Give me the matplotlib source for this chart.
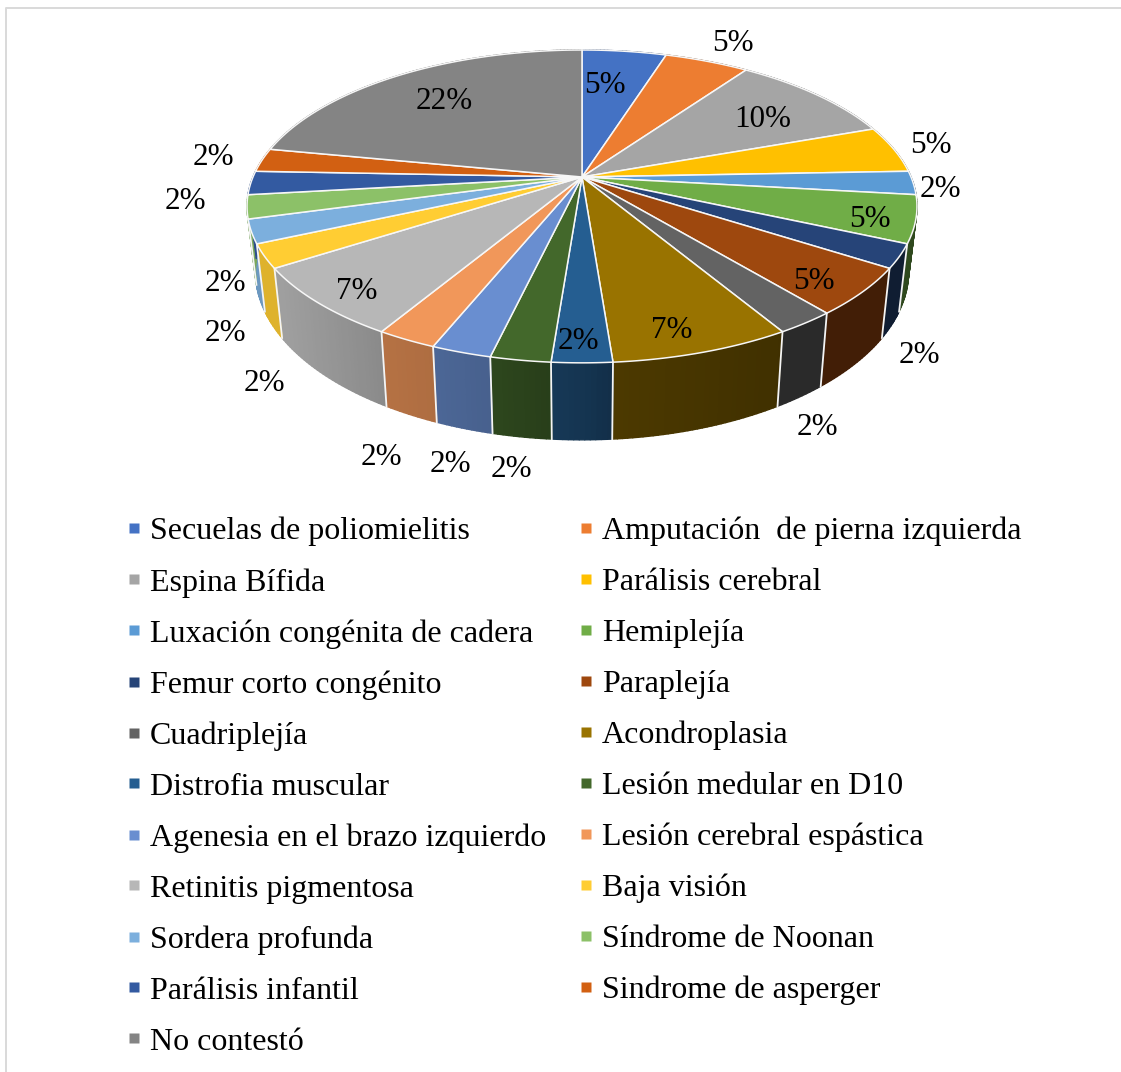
import numpy as np
import matplotlib
matplotlib.use('Agg')
import matplotlib.pyplot as plt
from matplotlib.collections import PolyCollection
from matplotlib.lines import Line2D
from matplotlib.colors import to_rgb

plt.rcParams['font.family'] = ['Liberation Serif', 'DejaVu Serif']

#### Data
categories = ['Secuelas de poliomielitis', 'Amputación  de pierna izquierda', 'Espina Bífida',
              'Parálisis cerebral', 'Luxación congénita de cadera', 'Hemiplejía',
              'Femur corto congénito', 'Paraplejía', 'Cuadriplejía', 'Acondroplasia',
              'Distrofia muscular', 'Lesión medular en D10', 'Agenesia en el brazo izquierdo',
              'Lesión cerebral espástica', 'Retinitis pigmentosa', 'Baja visión',
              'Sordera profunda', 'Síndrome de Noonan', 'Parálisis infantil',
              'Sindrome de asperger', 'No contestó']
counts = [2, 2, 4, 2, 1, 2, 1, 2, 1, 3, 1, 1, 1, 1, 3, 1, 1, 1, 1, 1, 9]
colors = ['#4472C4', '#ED7D31', '#A5A5A5', '#FFC000', '#5B9BD5', '#70AD47', '#264478',
          '#9E480E', '#636363', '#997300', '#255E91', '#43682B', '#698ED0', '#F1975A',
          '#B7B7B7', '#FFCD33', '#7CAFDD', '#8CC168', '#335AA1', '#D26012', '#848484']
# label centres in pixels, same order as the slices
label_x = [605, 733, 763, 931, 940, 870, 919, 814, 817, 672, 578, 511, 450, 381, 357, 264, 225, 225, 185, 213, 444]
label_y = [85.4, 43.4, 119.4, 145.4, 189.4, 219.4, 355.4, 281.4, 427.4, 330.4, 341.4, 469.4, 464.4, 457.4, 291.4,
           383.4, 333.4, 283.4, 201.4, 157.4, 101.4]

#### Pie geometry (pixels)
cx, cy = 582, 177
a, b, k = 150.9, 329.0, 0.188
depth = 62.5
shrink = 0.025
# rim darkening vs screen x
shade_x = [250, 280, 385, 435, 490, 550, 582, 612, 780, 920]
shade_f = [0.87, 0.87, 0.75, 0.72, 0.68, 0.60, 0.56, 0.50, 0.42, 0.42]


def project(theta, down=0.0):
    x = np.sin(theta)
    y = np.cos(theta)
    w = 1 + k * y
    return cx + b * x / w * (1 - shrink * down / depth), cy - a * y / w + down / w


fig = plt.figure(figsize=(11.21, 10.72), dpi=100)
ax = fig.add_axes([0, 0, 1, 1])
ax.set_xlim(0, 1121)
ax.set_ylim(1072, 0)
ax.axis('off')

# frame of the original picture, only top and left show
ax.plot([6, 6, 1121], [1072, 8, 8], color='#d9d9d9', lw=1.4)

edges = np.cumsum([0] + counts) / sum(counts) * 2 * np.pi

# rim first, the top face covers the back part of it
for i in range(len(counts)):
    th = np.linspace(edges[i], edges[i + 1], max(int(counts[i]) * 12, 12))
    quads = []
    fcols = []
    base = np.array(to_rgb(colors[i]))
    for t0, t1 in zip(th[:-1], th[1:]):
        x0, y0 = project(t0)
        x1, y1 = project(t1)
        x2, y2 = project(t1, down=depth)
        x3, y3 = project(t0, down=depth)
        quads.append([(x0, y0), (x1, y1), (x2, y2), (x3, y3)])
        fcols.append(base * np.interp((x0 + x1) / 2, shade_x, shade_f))
    ax.add_collection(PolyCollection(quads, facecolors=fcols, edgecolors=fcols, linewidths=1.0, zorder=2))

for t in edges:
    if np.cos(t) < -0.15:
        x0, y0 = project(t)
        x1, y1 = project(t, down=depth)
        ax.plot([x0, x1], [y0, y1], color='#f4f4f4', lw=1.3, zorder=3)

# top face
for i in range(len(counts)):
    th = np.linspace(edges[i], edges[i + 1], 60)
    px, py = project(th)
    ax.fill(np.r_[cx, px], np.r_[cy, py], facecolor=colors[i], edgecolor='#f7f7f7', lw=1.1, zorder=4)

total = sum(counts)
for i in range(len(counts)):
    ax.text(label_x[i], label_y[i], f'{round(counts[i] / total * 100)}%', fontsize=22.4,
            ha='center', va='center', color='black', zorder=6)

# legend is filled row by row in the original
handles = [Line2D([], [], ls='none', marker='s', ms=7.4, mec='none', mfc=c) for c in colors]
order = list(range(0, 21, 2)) + list(range(1, 21, 2))
fig.legend([handles[i] for i in order], [categories[i] for i in order], ncols=2,
           loc='upper left', bbox_to_anchor=(124.4 / 1121, 1 - 517 / 1072), frameon=False,
           fontsize=23.0, borderpad=0, borderaxespad=0, labelspacing=0.675, handlelength=0.6,
           handletextpad=0.2, columnspacing=0.95)

fig.savefig('out.png', dpi=100)
